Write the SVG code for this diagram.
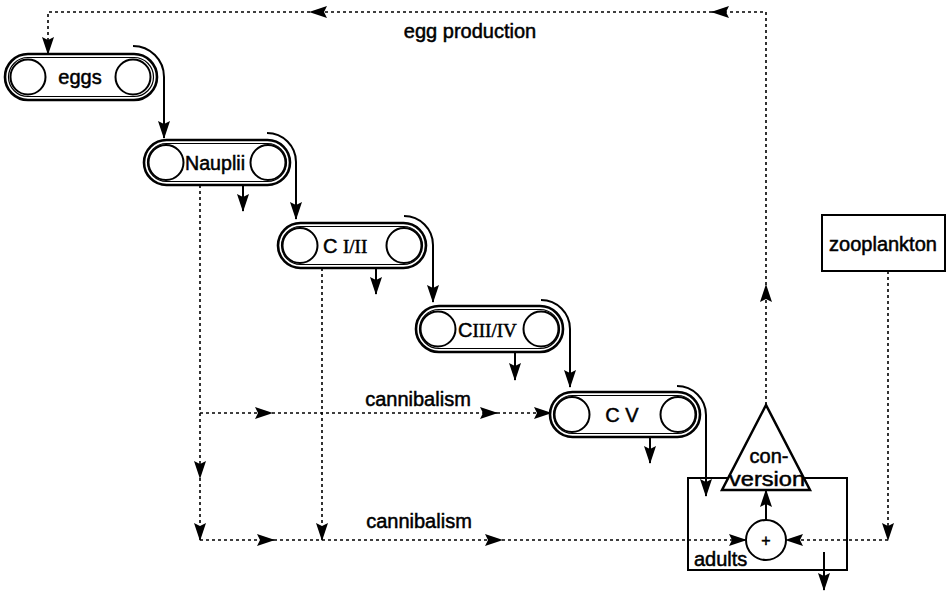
<svg xmlns="http://www.w3.org/2000/svg" width="951" height="594" viewBox="0 0 951 594">
<defs>
<marker id="ah" viewBox="0 0 18 12" refX="17" refY="6" markerWidth="18" markerHeight="12" markerUnits="userSpaceOnUse" orient="auto">
<path d="M0,0 L18,6 L0,12 L3,6 z" fill="#000"/>
</marker>
</defs>
<style>
.t{font-family:"Liberation Sans",Arial,sans-serif;font-size:20px;fill:#000;stroke:#000;stroke-width:0.5}
.s{font-family:"Liberation Serif","Times New Roman",serif;font-size:19px;fill:#000;stroke:#000;stroke-width:0.5}
.pill-o{fill:#fff;stroke:#000;stroke-width:2.6}
.pill-i{fill:none;stroke:#000;stroke-width:1.2}
.circ{fill:#fff;stroke:#000;stroke-width:2}
.sol{fill:none;stroke:#000;stroke-width:2}
.dot{fill:none;stroke:#000;stroke-width:1.6;stroke-dasharray:3 3}
.box{fill:#fff;stroke:#000;stroke-width:2}
</style>
<rect width="951" height="594" fill="#fff"/>

<g id="connectors">
<!-- egg production loop -->
<path class="dot" d="M766,405 L766,285" marker-end="url(#ah)"/>
<path class="dot" d="M766,285 L766,12 L712,12" marker-end="url(#ah)"/>
<path class="dot" d="M712,12 L310,12" marker-end="url(#ah)"/>
<path class="dot" d="M310,12 L48,12 L48,54" marker-end="url(#ah)"/>
<!-- stage transfers -->
<path class="sol" d="M133,46 A31,31 0 0 1 164,77 L164,138" marker-end="url(#ah)"/>
<path class="sol" d="M267,133 A29,29 0 0 1 296,162 L296,219" marker-end="url(#ah)"/>
<path class="sol" d="M404,216 A29,29 0 0 1 433,245 L433,302" marker-end="url(#ah)"/>
<path class="sol" d="M541,300 A29,29 0 0 1 570,329 L570,387" marker-end="url(#ah)"/>
<path class="sol" d="M677,386 A29,29 0 0 1 706,415 L706,496" marker-end="url(#ah)"/>
<!-- mortality arrows -->
<path class="sol" d="M243,172 L243,211" marker-end="url(#ah)"/>
<path class="sol" d="M376,256 L376,294" marker-end="url(#ah)"/>
<path class="sol" d="M515,340 L515,380" marker-end="url(#ah)"/>
<path class="sol" d="M650,423 L650,463" marker-end="url(#ah)"/>
<path class="sol" d="M824,552 L824,590" marker-end="url(#ah)"/>
<!-- cannibalism network -->
<path class="dot" d="M200,185 L200,478" marker-end="url(#ah)"/>
<path class="dot" d="M200,478 L200,540" marker-end="url(#ah)"/>
<path class="dot" d="M200,413 L272,413" marker-end="url(#ah)"/>
<path class="dot" d="M272,413 L497,413" marker-end="url(#ah)"/>
<path class="dot" d="M497,413 L551,413" marker-end="url(#ah)"/>
<path class="dot" d="M322,268 L322,540" marker-end="url(#ah)"/>
<path class="dot" d="M200,540 L274,540" marker-end="url(#ah)"/>
<path class="dot" d="M274,540 L502,540" marker-end="url(#ah)"/>
<path class="dot" d="M502,540 L746,540" marker-end="url(#ah)"/>
<!-- zooplankton food -->
<path class="dot" d="M888,271 L888,540" marker-end="url(#ah)"/>
<path class="dot" d="M888,540 L786,540" marker-end="url(#ah)"/>
<!-- sum to conversion -->
<path class="sol" d="M766,520 L766,490" marker-end="url(#ah)"/>
</g>

<text class="t" x="470" y="38" text-anchor="middle">egg production</text>
<text class="t" x="418" y="406" text-anchor="middle">cannibalism</text>
<text class="t" x="419" y="528" text-anchor="middle">cannibalism</text>

<g id="eggs">
<rect class="pill-o" x="5" y="54" width="152" height="46" rx="23"/>
<rect class="pill-i" x="8.5" y="57.5" width="145" height="39" rx="19.5"/>
<circle class="circ" cx="28" cy="77" r="17.5"/>
<circle class="circ" cx="133" cy="77" r="17.5"/>
<text class="t" x="80" y="84" text-anchor="middle">eggs</text>
</g>

<g id="nauplii">
<rect class="pill-o" x="144" y="140" width="146" height="45" rx="22.5"/>
<rect class="pill-i" x="147.5" y="143.5" width="139" height="38" rx="19"/>
<circle class="circ" cx="166" cy="162.5" r="17.5"/>
<circle class="circ" cx="268" cy="162.5" r="17.5"/>
<text class="t" x="215" y="170" text-anchor="middle" textLength="60" lengthAdjust="spacingAndGlyphs">Nauplii</text>
</g>

<g id="c12">
<rect class="pill-o" x="278" y="223" width="148" height="45" rx="22.5"/>
<rect class="pill-i" x="281.5" y="226.5" width="141" height="38" rx="19"/>
<circle class="circ" cx="300" cy="245.5" r="17.5"/>
<circle class="circ" cx="404" cy="245.5" r="17.5"/>
<text x="323" y="253"><tspan class="t">C </tspan><tspan class="s">I/II</tspan></text>
</g>

<g id="c34">
<rect class="pill-o" x="416" y="306" width="147" height="46" rx="23"/>
<rect class="pill-i" x="419.5" y="309.5" width="140" height="39" rx="19.5"/>
<circle class="circ" cx="438" cy="329" r="17.5"/>
<circle class="circ" cx="541" cy="329" r="17.5"/>
<text x="458" y="337"><tspan class="t">C</tspan><tspan class="s">III/IV</tspan></text>
</g>

<g id="c5">
<rect class="pill-o" x="550" y="392" width="150" height="45" rx="22.5"/>
<rect class="pill-i" x="553.5" y="395.5" width="143" height="38" rx="19"/>
<circle class="circ" cx="572" cy="414.5" r="17.5"/>
<circle class="circ" cx="678" cy="414.5" r="17.5"/>
<text class="t" x="622" y="422" text-anchor="middle">C V</text>
</g>

<g id="adults">
<rect x="688" y="478" width="159" height="92" fill="none" stroke="#000" stroke-width="2"/>
<text class="t" x="694" y="566">adults</text>
</g>

<g id="conversion">
<polygon points="766,405 722,490 810,490" fill="#fff" stroke="#000" stroke-width="2.5" stroke-linejoin="miter"/>
<text class="t" x="769" y="463" text-anchor="middle">con-</text>
<text class="t" x="767" y="486" text-anchor="middle" style="font-size:21px" textLength="76" lengthAdjust="spacingAndGlyphs">version</text>
</g>

<g id="sum">
<circle cx="766" cy="540" r="20" fill="#fff" stroke="#000" stroke-width="2"/>
<text class="t" x="766" y="546" text-anchor="middle" style="font-size:16px">+</text>
</g>

<g id="zooplankton">
<rect class="box" x="822" y="215" width="123" height="56"/>
<text class="t" x="883" y="251" text-anchor="middle">zooplankton</text>
</g>
</svg>
